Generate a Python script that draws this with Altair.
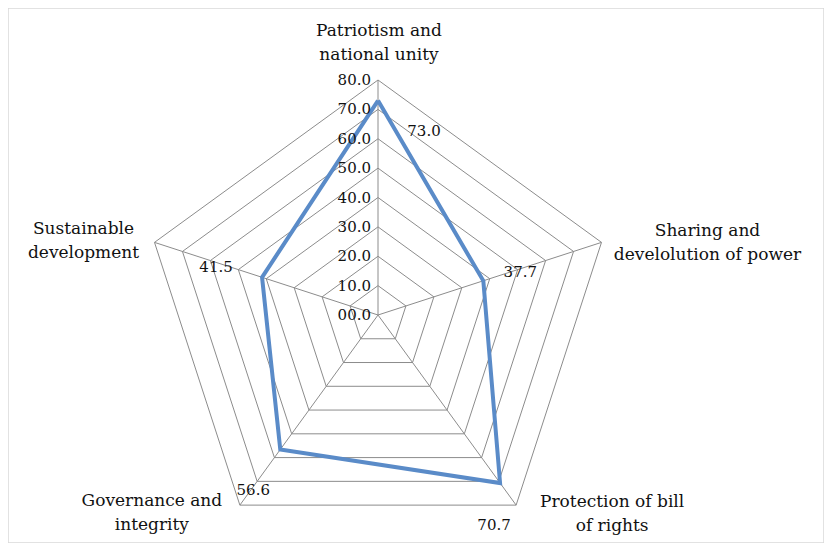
import altair as alt
import numpy as np
import pandas as pd

# ---- data ----
categories = [
    "Patriotism and\nnational unity",
    "Sharing and\ndevelolution of power",
    "Protection of bill\nof rights",
    "Governance and\nintegrity",
    "Sustainable\ndevelopment",
]
values = [73.0, 37.7, 70.7, 56.6, 41.5]
value_labels = ["73.0", "37.7", "70.7", "56.6", "41.5"]
tick_values = [0, 10, 20, 30, 40, 50, 60, 70, 80]
tick_labels = ["00.0", "10.0", "20.0", "30.0", "40.0", "50.0", "60.0", "70.0", "80.0"]
r_max = 80

# ---- geometry (library scales do the pixel mapping) ----
n = len(categories)
ang = np.deg2rad(np.arange(n) * 360.0 / n)

W, H = 816, 535
cx, cy = 370, 307          # pixel centre in plot area
k = 235 / r_max            # px per unit
xs = alt.Scale(domain=[-cx / k, (W - cx) / k], nice=False, zero=False)
ys = alt.Scale(domain=[-(H - cy) / k, cy / k], nice=False, zero=False)

def X(f):
    return alt.X(f, type="quantitative", scale=xs, axis=None)

def Y(f):
    return alt.Y(f, type="quantitative", scale=ys, axis=None)

rows = []
for t in tick_values[1:]:
    for j in range(n + 1):
        a = ang[j % n]
        rows.append({"ring": t, "idx": j, "x": t * np.sin(a), "y": t * np.cos(a)})
rings = pd.DataFrame(rows)

spokes = pd.DataFrame({
    "x": [0.0] * n, "y": [0.0] * n,
    "x2": r_max * np.sin(ang), "y2": r_max * np.cos(ang),
})

series = pd.DataFrame({
    "idx": list(range(n + 1)),
    "x": [values[j % n] * np.sin(ang[j % n]) for j in range(n + 1)],
    "y": [values[j % n] * np.cos(ang[j % n]) for j in range(n + 1)],
})

pts = pd.DataFrame({
    "idx": list(range(n)),
    "x": [values[j] * np.sin(ang[j]) for j in range(n)],
    "y": [values[j] * np.cos(ang[j]) for j in range(n)],
    "label": value_labels,
})

cats = pd.DataFrame({
    "idx": list(range(n)),
    "x": r_max * np.sin(ang),
    "y": r_max * np.cos(ang),
    "label": categories,
})

ticks = pd.DataFrame({"x": [0.0] * len(tick_values), "y": tick_values, "label": tick_labels})

FONT = "DejaVu Serif"
GRID = "#8C8C8C"
BLUE = "#5A8BC8"

ring_layer = alt.Chart(rings).mark_line(color=GRID, strokeWidth=1).encode(
    x=X("x"), y=Y("y"), detail="ring:N", order="idx:Q")

spoke_layer = alt.Chart(spokes).mark_rule(color=GRID, strokeWidth=1).encode(
    x=X("x"), y=Y("y"), x2="x2:Q", y2="y2:Q")

line_layer = alt.Chart(series).mark_line(
    color=BLUE, strokeWidth=4, strokeJoin="miter", strokeMiterLimit=10).encode(
    x=X("x"), y=Y("y"), order="idx:Q")

tick_layer = alt.Chart(ticks).mark_text(
    font=FONT, fontSize=15, align="right", baseline="middle", dx=-7, color="#111").encode(
    x=X("x"), y=Y("y"), text="label:N")

val_off = [(46, 30), (37, -9), (-6, 42), (-27, 40), (-46, -10)]
val_layers = [
    alt.Chart(pts).transform_filter(alt.datum.idx == i).mark_text(
        font=FONT, fontSize=15, align="center", baseline="middle",
        dx=dx, dy=dy, color="#111").encode(x=X("x"), y=Y("y"), text="label:N")
    for i, (dx, dy) in enumerate(val_off)
]

cat_off = [(1, -49), (106, -11), (96, -3), (-88, -4), (-71, -13)]
cat_layers = [
    alt.Chart(cats).transform_filter(alt.datum.idx == i).mark_text(
        font=FONT, fontSize=17, align="center", baseline="middle", lineBreak="\n",
        lineHeight=24, dx=dx, dy=dy, color="#111").encode(x=X("x"), y=Y("y"), text="label:N")
    for i, (dx, dy) in enumerate(cat_off)
]

chart = alt.layer(
    ring_layer, spoke_layer, line_layer, tick_layer, *val_layers, *cat_layers
).properties(
    width=W, height=H, padding=0,
    autosize=alt.AutoSizeParams(type="none"),
).configure_view(stroke="#D9D9D9", strokeWidth=1.5)

chart.save("out.html", embed_options={"renderer": "svg", "actions": False})
